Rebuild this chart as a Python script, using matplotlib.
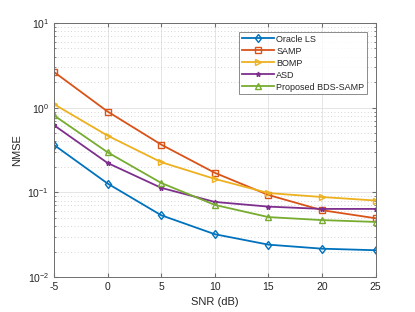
import matplotlib
matplotlib.use("Agg")
import matplotlib.pyplot as plt
from matplotlib.ticker import LogLocator, NullFormatter

plt.rcParams['font.family'] = ['Liberation Sans', 'DejaVu Sans']
plt.rcParams['axes.unicode_minus'] = False

snr = [-5, 0, 5, 10, 15, 20, 25]
oracle_ls = [0.363, 0.127, 0.0536, 0.032, 0.0241, 0.0216, 0.0207]
samp = [2.64, 0.90, 0.366, 0.17, 0.093, 0.0615, 0.0494]
bomp = [1.10, 0.467, 0.227, 0.144, 0.098, 0.088, 0.080]
asd = [0.62, 0.222, 0.113, 0.077, 0.0678, 0.0637, 0.0637]
proposed = [0.81, 0.297, 0.129, 0.071, 0.051, 0.047, 0.0447]

labels = ['Oracle LS', 'SAMP', 'BOMP', 'ASD', 'Proposed BDS-SAMP']
colors = ['#0072BD', '#D95319', '#EDB120', '#7E2F8E', '#77AC30']
markers = ['d', 's', '>', '*', '^']
series = [oracle_ls, samp, bomp, asd, proposed]

fig = plt.figure(figsize=(4.15, 3.12), dpi=100)
ax = fig.add_axes([54/415, 1-277/312, (375.7-54)/415, (277-23)/312])

for s, c, m, l in zip(series, colors, markers, labels):
    ms = 4.5 if m != '*' else 3.5
    ax.plot(snr, s, color=c, marker=m, markersize=ms, markerfacecolor='none' if m != '*' else c,
            markeredgewidth=1.0, linewidth=1.3, label=l)

ax.set_yscale('log')
ax.set_xlim(-5, 25)
ax.set_ylim(1e-2, 1e1)
ax.set_xticks(snr)
ax.yaxis.set_major_locator(LogLocator(base=10, numticks=10))
ax.yaxis.set_minor_locator(LogLocator(base=10, subs=range(2, 10), numticks=10))
ax.yaxis.set_minor_formatter(NullFormatter())

ax.grid(True, which='major', color='#e0e0e0', linewidth=0.6)
ax.grid(True, which='minor', axis='y', color='#c8c8c8', linestyle=(0, (1, 3)), linewidth=0.6)
ax.set_axisbelow(True)

for sp in ax.spines.values():
    sp.set_color('#6e6e6e')
    sp.set_linewidth(0.7)
ax.tick_params(which='both', direction='in', color='#6e6e6e', labelcolor='#262626',
               labelsize=7.5, top=True, right=True)
ax.tick_params(which='major', length=3)
ax.tick_params(which='minor', length=1.5)

ax.set_xlabel('SNR (dB)', fontsize=8, color='#262626')
ax.set_ylabel('NMSE', fontsize=8, color='#262626')

leg = ax.legend(loc='upper right', bbox_to_anchor=(0.9735, 0.965), fontsize=6.5, frameon=True,
                fancybox=False, edgecolor='#6e6e6e', handlelength=3.5, borderpad=0.3,
                labelspacing=0.33, handletextpad=0.3, borderaxespad=0)
leg.get_frame().set_linewidth(0.7)
for t in leg.get_texts():
    t.set_color('#262626')

fig.savefig('out.png', dpi=100)
